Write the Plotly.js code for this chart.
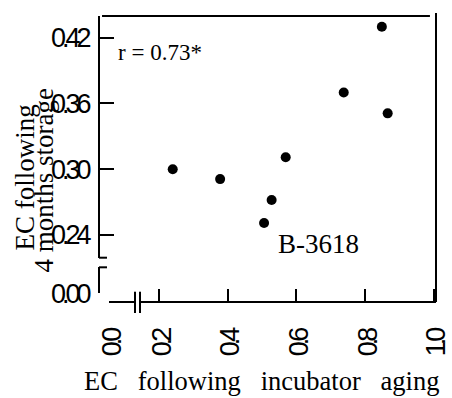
<!DOCTYPE html>
<html>
<head>
<meta charset="utf-8">
<script src="https://cdn.plot.ly/plotly-3.0.1.min.js"></script>
<style>
html,body{margin:0;padding:0;background:#fff;}
#chart{width:452px;height:398px;}
.xtick text,.x2tick text,.ytick text,.y2tick text{letter-spacing:-4px;}
</style>
</head>
<body>
<div id="chart"></div>
<script>
// Data
const ecIncubator = [0.240, 0.378, 0.506, 0.528, 0.569, 0.738, 0.849, 0.866];
const ecStorage   = [0.300, 0.291, 0.251, 0.272, 0.311, 0.370, 0.430, 0.351];

const xTickVals = [0.2, 0.4, 0.6, 0.8, 1.0];
const xTickText = ["0.2", "0.4", "0.6", "0.8", "1.0"];
const yTickVals = [0.24, 0.30, 0.36, 0.42];
const yTickText = ["0.24", "0.30", "0.36", "0.42"];
const xZeroVals = [0.0];
const xZeroText = ["0.0"];
const yZeroVals = [0.00];
const yZeroText = ["0.00"];

const corrLabel = "r = 0.73*";
const pointLabel = "B-3618";
const xTitleWords = ["EC", "following", "incubator", "aging"];
const yTitleLines = ["EC following", "4 months storage"];

const tickFont = {family: "Liberation Sans, Arial, sans-serif", size: 27, color: "#000"};
const serif = "Liberation Serif, Times New Roman, serif";

const baseAxis = {
  showgrid: false, zeroline: false, showline: true,
  linecolor: "#000", linewidth: 2,
  ticks: "inside", tickcolor: "#000", tickwidth: 2,
  tickmode: "array", tickfont: tickFont,
  anchor: "free", position: 0, fixedrange: true,
  ticklabeloverflow: "allow"
};

const traces = [
  {
    type: "scatter", mode: "markers",
    x: ecIncubator, y: ecStorage,
    xaxis: "x", yaxis: "y",
    marker: {color: "#000", size: 10},
    cliponaxis: false, hoverinfo: "skip"
  },
  {
    type: "scatter", mode: "markers",
    x: [], y: [], xaxis: "x2", yaxis: "y2", hoverinfo: "skip"
  }
];

const line = {color: "#000", width: 2};
const shapes = [
  // frame top and right
  {type: "line", xref: "paper", yref: "paper", x0: 0.009, x1: 0.982, y0: 1, y1: 1, line: line},
  {type: "line", xref: "paper", yref: "paper", x0: 1, x1: 1, y0: 0, y1: 1.0105, line: line},
  // y-axis break caps
  {type: "line", xref: "paper", yref: "paper", x0: 0, x1: 0.0237, y0: 0.1549, y1: 0.1549, line: line},
  {type: "line", xref: "paper", yref: "paper", x0: 0, x1: 0.0237, y0: 0.1213, y1: 0.1213, line: line},
  // x-axis break marks
  {type: "line", xref: "paper", yref: "paper", x0: 0.1068, x1: 0.1068, y0: -0.0385, y1: 0.036, line: line},
  {type: "line", xref: "paper", yref: "paper", x0: 0.1217, x1: 0.1217, y0: -0.0385, y1: 0.036, line: line}
];

const sp = "\u00a0\u00a0\u00a0";
const annotations = [
  {text: corrLabel, xref: "paper", yref: "paper", x: 0.181, y: 0.874,
   xanchor: "center", yanchor: "middle", showarrow: false,
   font: {family: serif, size: 23, color: "#000"}},
  {text: pointLabel, xref: "paper", yref: "paper", x: 0.6528, y: 0.2028,
   xanchor: "center", yanchor: "middle", showarrow: false,
   font: {family: serif, size: 27, color: "#000"}},
  {text: xTitleWords.join(sp), xref: "paper", yref: "paper", x: 0.485, y: -0.276,
   xanchor: "center", yanchor: "middle", showarrow: false,
   font: {family: serif, size: 26.5, color: "#000"}},
  {text: yTitleLines[0], xref: "paper", yref: "paper", x: -0.2196, y: 0.435,
   xanchor: "center", yanchor: "middle", showarrow: false, textangle: -90,
   font: {family: serif, size: 27, color: "#000"}},
  {text: yTitleLines[1], xref: "paper", yref: "paper", x: -0.163, y: 0.425,
   xanchor: "center", yanchor: "middle", showarrow: false, textangle: -90,
   font: {family: serif, size: 27, color: "#000"}}
];

const layout = {
  width: 452, height: 398,
  margin: {l: 99, r: 16, t: 16, b: 96, pad: 0},
  paper_bgcolor: "#fff", plot_bgcolor: "#fff",
  showlegend: false,
  xaxis: Object.assign({}, baseAxis, {
    domain: [0.1217, 1], range: [0.1447, 1.0067],
    tickvals: xTickVals, ticktext: xTickText,
    ticklen: 12, tickangle: -90, ticklabelstandoff: 17, ticklabelshift: 3
  }),
  yaxis: Object.assign({}, baseAxis, {
    domain: [0.1549, 1], range: [0.2193, 0.4398],
    tickvals: yTickVals, ticktext: yTickText,
    ticklen: 14, ticklabelstandoff: 5
  }),
  xaxis2: Object.assign({}, baseAxis, {
    domain: [0.0297, 0.1068], range: [0, 0.0757],
    tickvals: xZeroVals, ticktext: xZeroText,
    ticklen: 12, tickangle: -90, ticklabelstandoff: 17, ticklabelshift: 3
  }),
  yaxis2: Object.assign({}, baseAxis, {
    domain: [0.0304, 0.1213], range: [0, 0.0237],
    tickvals: yZeroVals, ticktext: yZeroText,
    ticklen: 10, ticklabelstandoff: 5
  }),
  shapes: shapes,
  annotations: annotations
};

Plotly.newPlot("chart", traces, layout, {staticPlot: true, displayModeBar: false});
</script>
</body>
</html>
